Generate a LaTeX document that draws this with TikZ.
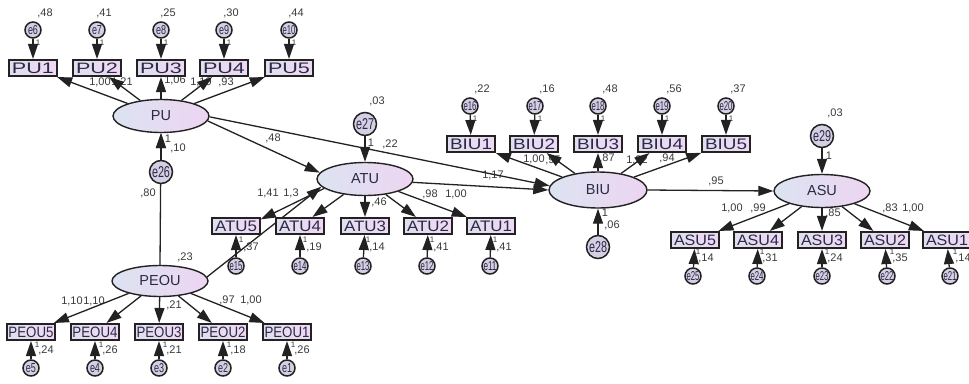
\documentclass[tikz,border=0pt]{standalone}
\usepackage{fontspec}
\setmainfont{Liberation Sans}
\usetikzlibrary{arrows.meta,shapes.geometric}

\definecolor{ink}{HTML}{222222}
\definecolor{txt}{HTML}{2A2A44}
\definecolor{num}{HTML}{3A3A3A}
\definecolor{latL}{HTML}{DCE3F1}
\definecolor{latR}{HTML}{EDD5F1}
\definecolor{boxL}{HTML}{E1DEEE}
\definecolor{boxR}{HTML}{EFD8F4}
\definecolor{errfill}{HTML}{D6CFE4}

% stretch a label to a fixed width and height
\newcommand{\fitlabel}[3]{\resizebox{#1pt}{#2pt}{#3}}

\tikzset{
  lat/.style={ellipse, draw=ink, line width=1.4pt, left color=latL, right color=latR,
    minimum width=96pt, minimum height=33pt, inner sep=0pt, text=txt,
    font=\fontsize{14.5}{14.5}\selectfont},
  obs/.style={rectangle, draw=ink, line width=1.6pt, left color=boxL, right color=boxR,
    minimum width=48pt, minimum height=16.5pt, inner sep=0pt, text=txt},
  err/.style={circle, draw=ink, line width=1.5pt, fill=errfill, minimum size=16pt,
    inner sep=0pt, text=txt},
  errbig/.style={err, minimum size=23pt},
  path/.style={draw=ink, line width=1.3pt, -{Triangle[length=15pt,width=10pt]}},
  val/.style={font=\fontsize{11}{11}\selectfont, text=num, inner sep=0pt},
  one/.style={font=\fontsize{8}{8}\selectfont, text=num, inner sep=0pt},
}

\begin{document}
\begin{tikzpicture}[x=1pt,y=-1pt]
\fill[white] (0,0) rectangle (969,383);
\useasboundingbox (0,0) rectangle (969,383);

% ---------- estimates (drawn first, paths run over them) ----------
\foreach \t/\x/\y [count=\i] in {{,48}/45/13, {,41}/104/13, {,25}/168/13, {,30}/231/13, {,44}/296/13}
  \node[val] (vPU\i) at (\x,\y) {\t};
\foreach \t/\x/\y [count=\i] in {{1,00}/100/82, {1,21}/122/82, {1,06}/175/80, {1,19}/201/82, {,93}/226/82}
  \node[val] (lPU\i) at (\x,\y) {\t};
\foreach \t/\x/\y [count=\i] in {{1,10}/72/301, {1,10}/94/301, {,21}/174/305, {,97}/227/300, {1,00}/251/300}
  \node[val] (lPEOU\i) at (\x,\y) {\t};
\foreach \t/\x/\y [count=\i] in {{1,41}/268/193, {1,3}/291/193, {,46}/379/202, {,98}/430/194, {1,00}/456/194}
  \node[val] (lATU\i) at (\x,\y) {\t};
\foreach \t/\x/\y [count=\i] in {{1,00}/534/159, {,95}/553/160, {,87}/607/158, {1,22}/637/160, {,94}/667/158}
  \node[val] (lBIU\i) at (\x,\y) {\t};
\foreach \t/\x/\y [count=\i] in {{1,00}/732/208, {,99}/758/208, {,85}/833/213, {,83}/890/208, {1,00}/913/208}
  \node[val] (lASU\i) at (\x,\y) {\t};

\node[val] (wPUATU)  at (273,138) {,48};
\node[val] (wPUBIU)  at (390,144) {,22};
\node[val] (w27)     at (371,143) {1};
\node[val] (v27)     at (377,101) {,03};
\node[val] (w26)     at (168,139) {1};
\node[val] (v26)     at (178,148) {,10};
\node[val] (wPEOUPU) at (148,193) {,80};
\node[val] (vPEOU)   at (185,257) {,23};
\node[val] (wATUBIU) at (493,175) {1,17};
\node[val] (wBIUASU) at (716,181) {,95};
\node[val] (w28)     at (605,213) {1};
\node[val] (v28)     at (612,225) {,06};
\node[val] (w29)     at (829,156) {1};
\node[val] (v29)     at (835,113) {,03};

% ---------- latent variables ----------
\node[lat] (PU)   at (161,116) {PU};
\node[lat, minimum height=31pt] (PEOU) at (160,281) {PEOU};
\node[lat] (ATU)  at (365,179) {ATU};
\node[lat, minimum width=98pt, minimum height=36pt] (BIU) at (598,190) {BIU};
\node[lat] (ASU)  at (822,191) {ASU};

% ---------- structural paths ----------
\draw[path] (PEOU.north) -- (PU.south);
\node[errbig] (e26) at (161,172) {\fitlabel{18}{11}{e26}};
\draw[path] (e26) -- (PU);
\draw[path] (PU.-6) -- (ATU.172);
\draw[path] (PU.-1) -- (BIU.175);
\draw[path] (PEOU.5) -- (ATU.190);
\draw[path] (ATU.-4) -- (BIU.west);
\draw[path] (BIU.east) -- (ASU.west);

\node[errbig] (e27) at (365,124) {\fitlabel{18}{11}{e27}};
\draw[path] (e27) -- (ATU);
\node[errbig] (e28) at (598,247) {\fitlabel{18}{11}{e28}};
\draw[path] (e28) -- (BIU);
\node[errbig] (e29) at (822,136) {\fitlabel{18}{11}{e29}};
\draw[path] (e29) -- (ASU);

% ---------- PU block ----------
\foreach \k/\x/\e/\w in {1/33/6/10, 2/97/7/10, 3/161/8/10, 4/224/9/10, 5/289/10/13}{
  \node[obs] (PU\k) at (\x,68) {\fitlabel{42}{10.5}{PU\k}};
  \node[err] (e\e) at (\x,30) {\fitlabel{\w}{9}{e\e}};
  \node[one] (o\e) at ({\x+5},43) {1};
  \draw[path] (e\e) -- (PU\k);
  \draw[path] (PU) -- (PU\k);
}

% ---------- PEOU block ----------
\foreach \k/\x/\e/\t in {5/31/5/{,24}, 4/95/4/{,26}, 3/159/3/{,21}, 2/223/2/{,18}, 1/287/1/{,26}}{
  \node[obs] (PEOU\k) at (\x,332) {\fitlabel{45}{10.5}{PEOU\k}};
  \node[err] (e\e) at (\x,368) {\fitlabel{10}{9}{e\e}};
  \node[one] (o\e) at ({\x+6},345) {1};
  \node[val] (vPEOU\k) at ({\x+15},350) {\t};
  \draw[path] (e\e) -- (PEOU\k);
  \draw[path] (PEOU) -- (PEOU\k);
}

% ---------- ATU block ----------
\foreach \k/\x/\ex/\e/\t in {4/300/300/14/{,19}, 3/365/363/13/{,14}, 2/428/427/12/{,41}, 1/491/490/11/{,41}}{
  \node[obs] (ATU\k) at (\x,226) {\fitlabel{42}{10.5}{ATU\k}};
  \node[err] (e\e) at (\ex,266) {\fitlabel{13}{9}{e\e}};
  \node[one] (o\e) at ({\ex+5},240) {1};
  \node[val] (vATU\k) at ({\ex+14},247) {\t};
  \draw[path] (e\e) -- (ATU\k);
  \draw[path] (ATU) -- (ATU\k);
}
\node[obs] (ATU5) at (236,226) {\fitlabel{42}{10.5}{ATU5}};
\node[err] (e15) at (236,266) {\fitlabel{13}{9}{e15}};
\node[one] (o15) at (241,240) {1};
\node[val] (vATU5) at (251,247) {,37};
\draw[path] (e15) -- (ATU5);
\draw[path] (ATU.193) -- (ATU5.15);

% ---------- BIU block ----------
\foreach \k/\x/\ex/\e/\t in {1/471/470/16/{,22}, 2/534/535/17/{,16}, 3/598/598/18/{,48}, 4/662/662/19/{,56}, 5/726/726/20/{,37}}{
  \node[obs] (BIU\k) at (\x,144) {\fitlabel{42}{10.5}{BIU\k}};
  \node[err] (e\e) at (\ex,106) {\fitlabel{13}{9}{e\e}};
  \node[one] (o\e) at ({\ex+5},119) {1};
  \node[val] (vBIU\k) at ({\ex+12},89) {\t};
  \draw[path] (e\e) -- (BIU\k);
  \draw[path] (BIU) -- (BIU\k);
}

% ---------- ASU block ----------
\foreach \k/\x/\ex/\e/\t in {5/695/693/25/{,14}, 4/758/757/24/{,31}, 3/822/822/23/{,24}, 2/885/887/22/{,35}, 1/947/950/21/{,14}}{
  \node[obs] (ASU\k) at (\x,240) {\fitlabel{42}{10.5}{ASU\k}};
  \node[err] (e\e) at (\ex,276) {\fitlabel{13}{9}{e\e}};
  \node[one] (o\e) at ({\ex+5},252) {1};
  \node[val] (vASU\k) at ({\ex+13},258) {\t};
  \draw[path] (e\e) -- (ASU\k);
  \draw[path] (ASU) -- (ASU\k);
}
\end{tikzpicture}
\end{document}
